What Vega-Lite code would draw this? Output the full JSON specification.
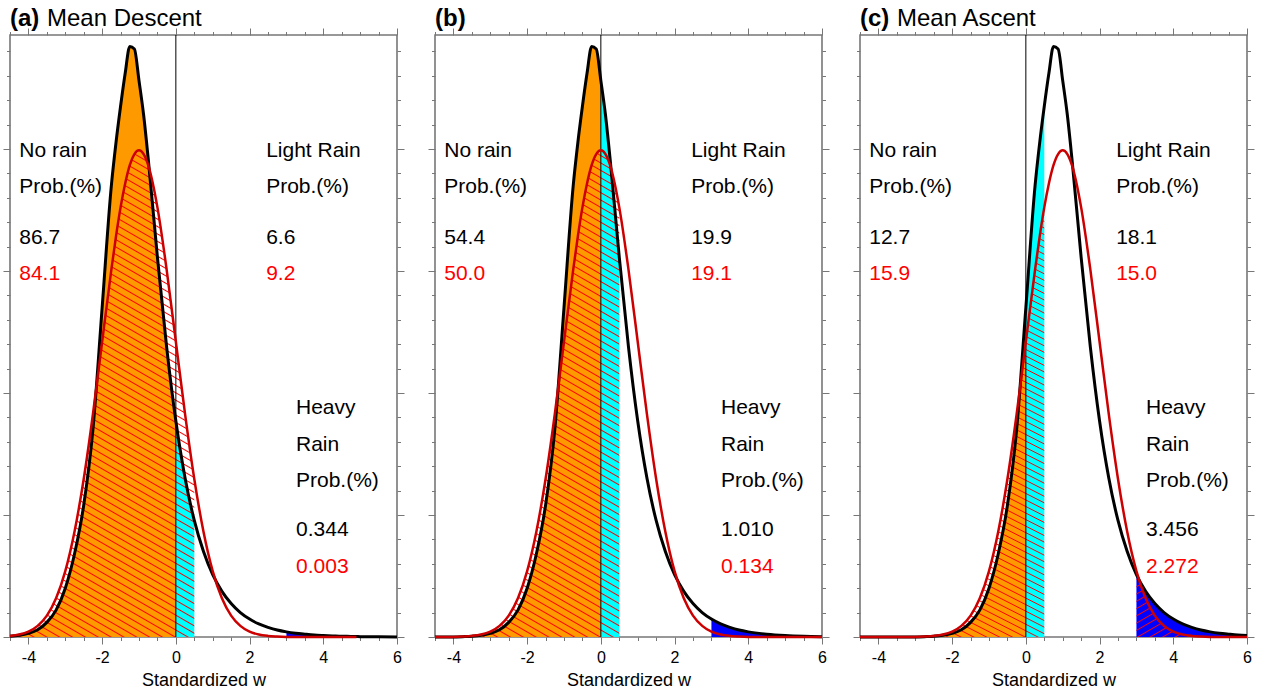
{
"$schema": "https://vega.github.io/schema/vega-lite/v6.json",
"background": "white",
"padding": {"left": 1, "right": 10, "top": 6, "bottom": 0},
"spacing": 38,
"bounds": "flush",
"config": {
 "view": {"stroke": "#777777", "strokeWidth": 1.6},
 "axis": {"domain": false, "grid": false, "tickColor": "#777777", "tickWidth": 1, "labelFont": "Liberation Sans", "labelFontSize": 16, "labelColor": "#000000", "titleFont": "Liberation Sans", "titleFontSize": 18, "titleFontWeight": "normal", "titleColor": "#000000", "labelFlush": false, "labelOverlap": false},
 "text": {"font": "Liberation Sans", "fontSize": 21, "align": "left", "baseline": "alphabetic", "color": "#000000"}
},
"datasets": {
 "ca": [
{"x":-4.5,"b":0.0006,"r":0.0009},{"x":-4.25,"b":0.0014,"r":0.002},{"x":-4,"b":0.003,"r":0.0044},{"x":-3.75,"b":0.006,"r":0.0091},
{"x":-3.5,"b":0.012,"r":0.0175},{"x":-3.25,"b":0.022,"r":0.0317},{"x":-3,"b":0.04,"r":0.054},{"x":-2.75,"b":0.068,"r":0.0863},
{"x":-2.5,"b":0.108,"r":0.1295},{"x":-2.25,"b":0.17,"r":0.1826},{"x":-2,"b":0.27,"r":0.242},{"x":-1.75,"b":0.37,"r":0.3011},
{"x":-1.625,"b":0.405,"r":0.3282},{"x":-1.5,"b":0.435,"r":0.3521},{"x":-1.375,"b":0.462,"r":0.3717},{"x":-1.25,"b":0.484,"r":0.3867},
{"x":-1.125,"b":0.482,"r":0.3958},{"x":-1,"b":0.456,"r":0.3989},{"x":-0.875,"b":0.428,"r":0.3958},{"x":-0.75,"b":0.392,"r":0.3867},
{"x":-0.5,"b":0.3112,"r":0.3521},{"x":-0.25,"b":0.2376,"r":0.3011},{"x":0,"b":0.177,"r":0.242},{"x":0.25,"b":0.1303,"r":0.1826},
{"x":0.5,"b":0.0955,"r":0.1295},{"x":0.75,"b":0.07,"r":0.0863},{"x":1,"b":0.0511,"r":0.054},{"x":1.25,"b":0.0374,"r":0.0317},
{"x":1.5,"b":0.0274,"r":0.0175},{"x":1.75,"b":0.02,"r":0.0091},{"x":2,"b":0.0147,"r":0.0044},{"x":2.25,"b":0.0107,"r":0.002},
{"x":2.5,"b":0.0079,"r":0.0009},{"x":2.75,"b":0.0057,"r":0.0004},{"x":3,"b":0.0042,"r":0.0001},{"x":3.25,"b":0.0031,"r":0},
{"x":3.5,"b":0.0023,"r":0},{"x":3.75,"b":0.0016,"r":0},{"x":4,"b":0.0012,"r":0},{"x":4.25,"b":0.0009,"r":0},
{"x":4.5,"b":0.0006,"r":0},{"x":4.75,"b":0.0005,"r":0},{"x":4.9,"b":0.0004,"r":0},{"x":5,"b":0.0003,"r":null},
{"x":5.5,"b":0.0002,"r":null},{"x":6,"b":0.0001,"r":null}],
 "cb": [
{"x":-4.5,"b":0,"r":0},{"x":-4,"b":0.0001,"r":0.0001},{"x":-3.75,"b":0.0003,"r":0.0004},{"x":-3.5,"b":0.0006,"r":0.0009},
{"x":-3.25,"b":0.0014,"r":0.002},{"x":-3,"b":0.003,"r":0.0044},{"x":-2.75,"b":0.006,"r":0.0091},{"x":-2.5,"b":0.012,"r":0.0175},
{"x":-2.25,"b":0.022,"r":0.0317},{"x":-2,"b":0.04,"r":0.054},{"x":-1.75,"b":0.068,"r":0.0863},{"x":-1.5,"b":0.108,"r":0.1295},
{"x":-1.25,"b":0.17,"r":0.1826},{"x":-1,"b":0.27,"r":0.242},{"x":-0.75,"b":0.37,"r":0.3011},{"x":-0.625,"b":0.405,"r":0.3282},
{"x":-0.5,"b":0.435,"r":0.3521},{"x":-0.375,"b":0.462,"r":0.3717},{"x":-0.25,"b":0.484,"r":0.3867},{"x":-0.125,"b":0.482,"r":0.3958},
{"x":0,"b":0.456,"r":0.3989},{"x":0.125,"b":0.428,"r":0.3958},{"x":0.25,"b":0.392,"r":0.3867},{"x":0.5,"b":0.3112,"r":0.3521},
{"x":0.75,"b":0.2376,"r":0.3011},{"x":1,"b":0.177,"r":0.242},{"x":1.25,"b":0.1303,"r":0.1826},{"x":1.5,"b":0.0955,"r":0.1295},
{"x":1.75,"b":0.07,"r":0.0863},{"x":2,"b":0.0511,"r":0.054},{"x":2.25,"b":0.0374,"r":0.0317},{"x":2.5,"b":0.0274,"r":0.0175},
{"x":2.75,"b":0.02,"r":0.0091},{"x":3,"b":0.0147,"r":0.0044},{"x":3.25,"b":0.0107,"r":0.002},{"x":3.5,"b":0.0079,"r":0.0009},
{"x":3.75,"b":0.0057,"r":0.0004},{"x":4,"b":0.0042,"r":0.0001},{"x":4.5,"b":0.0023,"r":0},{"x":5,"b":0.0012,"r":0},
{"x":5.5,"b":0.0006,"r":0},{"x":6,"b":0.0003,"r":0}],
 "cc": [
{"x":-4.5,"b":0,"r":0},{"x":-3.5,"b":0,"r":0},{"x":-3,"b":0.0001,"r":0.0001},{"x":-2.75,"b":0.0003,"r":0.0004},
{"x":-2.5,"b":0.0006,"r":0.0009},{"x":-2.25,"b":0.0014,"r":0.002},{"x":-2,"b":0.003,"r":0.0044},{"x":-1.75,"b":0.006,"r":0.0091},
{"x":-1.5,"b":0.012,"r":0.0175},{"x":-1.25,"b":0.022,"r":0.0317},{"x":-1,"b":0.04,"r":0.054},{"x":-0.75,"b":0.068,"r":0.0863},
{"x":-0.5,"b":0.108,"r":0.1295},{"x":-0.25,"b":0.17,"r":0.1826},{"x":0,"b":0.27,"r":0.242},{"x":0.25,"b":0.37,"r":0.3011},
{"x":0.375,"b":0.405,"r":0.3282},{"x":0.5,"b":0.435,"r":0.3521},{"x":0.625,"b":0.462,"r":0.3717},{"x":0.75,"b":0.484,"r":0.3867},
{"x":0.875,"b":0.482,"r":0.3958},{"x":1,"b":0.456,"r":0.3989},{"x":1.125,"b":0.428,"r":0.3958},{"x":1.25,"b":0.392,"r":0.3867},
{"x":1.5,"b":0.3112,"r":0.3521},{"x":1.75,"b":0.2376,"r":0.3011},{"x":2,"b":0.177,"r":0.242},{"x":2.25,"b":0.1303,"r":0.1826},
{"x":2.5,"b":0.0955,"r":0.1295},{"x":2.75,"b":0.07,"r":0.0863},{"x":3,"b":0.0511,"r":0.054},{"x":3.25,"b":0.0374,"r":0.0317},
{"x":3.5,"b":0.0274,"r":0.0175},{"x":3.75,"b":0.02,"r":0.0091},{"x":4,"b":0.0147,"r":0.0044},{"x":4.25,"b":0.0107,"r":0.002},
{"x":4.5,"b":0.0079,"r":0.0009},{"x":4.75,"b":0.0057,"r":0.0004},{"x":5,"b":0.0042,"r":0.0001},{"x":5.25,"b":0.0031,"r":0},
{"x":5.5,"b":0.0023,"r":0},{"x":5.75,"b":0.0016,"r":0},{"x":6,"b":0.0012,"r":0}]
},
"hconcat": [
{
 "width": 387, "height": 602,
 "data": {"name": "ca"},
 "resolve": {"axis": {"x": "independent", "y": "independent"}},
 "layer": [
  {"transform": [{"filter": "datum.x <= 0"}],
   "mark": {"type": "area", "color": "#ff9900", "interpolate": "monotone"},
   "encoding": {
    "x": {"field": "x", "type": "quantitative", "scale": {"domain": [-4.5, 6], "nice": false, "zero": false},
     "axis": {"orient": "bottom", "values": [-4.5,-4,-3.5,-3,-2.5,-2,-1.5,-1,-0.5,0,0.5,1,1.5,2,2.5,3,3.5,4,4.5,5,5.5,6], "tickSize": {"condition": {"test": "datum.value % 2 === 0", "value": 7}, "value": 3.5}, "labelExpr": "datum.value % 2 === 0 ? '' + datum.value : ''", "labelPadding": 5, "title": "Standardized w", "titlePadding": 6}},
    "y": {"field": "b", "type": "quantitative", "scale": {"domain": [0, 0.4934], "nice": false},
     "axis": {"orient": "left", "values": [0,0.02,0.04,0.06,0.08,0.1,0.12,0.14,0.16,0.18,0.2,0.22,0.24,0.26,0.28,0.3,0.32,0.34,0.36,0.38,0.4,0.42,0.44,0.46,0.48], "tickSize": {"condition": {"test": "abs(datum.value*10 - round(datum.value*10)) < 0.001", "value": 7}, "value": 3.5}, "labels": false, "title": null}}}},
  {"transform": [{"filter": "datum.x >= 0 && datum.x <= 0.5"}],
   "mark": {"type": "area", "color": "#00ffff", "interpolate": "monotone"},
   "encoding": {
    "x": {"field": "x", "type": "quantitative",
     "axis": {"orient": "top", "values": [-4.5,-4,-3.5,-3,-2.5,-2,-1.5,-1,-0.5,0,0.5,1,1.5,2,2.5,3,3.5,4,4.5,5,5.5,6], "tickSize": {"condition": {"test": "datum.value % 2 === 0", "value": 7}, "value": 3.5}, "labels": false, "title": null}},
    "y": {"field": "b", "type": "quantitative",
     "axis": {"orient": "right", "values": [0,0.02,0.04,0.06,0.08,0.1,0.12,0.14,0.16,0.18,0.2,0.22,0.24,0.26,0.28,0.3,0.32,0.34,0.36,0.38,0.4,0.42,0.44,0.46,0.48], "tickSize": {"condition": {"test": "abs(datum.value*10 - round(datum.value*10)) < 0.001", "value": 7}, "value": 3.5}, "labels": false, "title": null}}}},
  {"transform": [{"filter": "datum.x >= 3"}],
   "mark": {"type": "area", "color": "#0000ff", "interpolate": "monotone"},
   "encoding": {"x": {"field": "x", "type": "quantitative", "axis": null}, "y": {"field": "b", "type": "quantitative", "axis": null}}},
  {"transform": [{"filter": "datum.x <= 0.5"}],
   "mark": {"type": "area", "interpolate": "monotone", "fill": {"gradient": "linear", "x1": 1, "y1": 0, "x2": 0.7458, "y2": 1.1629, "stops": [
{"offset":0,"color":"#f000"},{"offset":0.0019,"color":"#f00"},{"offset":0.0038,"color":"#f000"},
{"offset":0.0125,"color":"#f000"},{"offset":0.0144,"color":"#f00"},{"offset":0.0163,"color":"#f000"},
{"offset":0.025,"color":"#f000"},{"offset":0.0269,"color":"#f00"},{"offset":0.0288,"color":"#f000"},
{"offset":0.0375,"color":"#f000"},{"offset":0.0394,"color":"#f00"},{"offset":0.0413,"color":"#f000"},
{"offset":0.05,"color":"#f000"},{"offset":0.0519,"color":"#f00"},{"offset":0.0538,"color":"#f000"},
{"offset":0.0625,"color":"#f000"},{"offset":0.0644,"color":"#f00"},{"offset":0.0663,"color":"#f000"},
{"offset":0.075,"color":"#f000"},{"offset":0.0769,"color":"#f00"},{"offset":0.0788,"color":"#f000"},
{"offset":0.0875,"color":"#f000"},{"offset":0.0894,"color":"#f00"},{"offset":0.0913,"color":"#f000"},
{"offset":0.1,"color":"#f000"},{"offset":0.1019,"color":"#f00"},{"offset":0.1038,"color":"#f000"},
{"offset":0.1125,"color":"#f000"},{"offset":0.1144,"color":"#f00"},{"offset":0.1163,"color":"#f000"},
{"offset":0.125,"color":"#f000"},{"offset":0.1269,"color":"#f00"},{"offset":0.1288,"color":"#f000"},
{"offset":0.1375,"color":"#f000"},{"offset":0.1394,"color":"#f00"},{"offset":0.1413,"color":"#f000"},
{"offset":0.15,"color":"#f000"},{"offset":0.1519,"color":"#f00"},{"offset":0.1538,"color":"#f000"},
{"offset":0.1625,"color":"#f000"},{"offset":0.1644,"color":"#f00"},{"offset":0.1663,"color":"#f000"},
{"offset":0.175,"color":"#f000"},{"offset":0.1769,"color":"#f00"},{"offset":0.1788,"color":"#f000"},
{"offset":0.1875,"color":"#f000"},{"offset":0.1894,"color":"#f00"},{"offset":0.1913,"color":"#f000"},
{"offset":0.2,"color":"#f000"},{"offset":0.2019,"color":"#f00"},{"offset":0.2038,"color":"#f000"},
{"offset":0.2125,"color":"#f000"},{"offset":0.2144,"color":"#f00"},{"offset":0.2163,"color":"#f000"},
{"offset":0.225,"color":"#f000"},{"offset":0.2269,"color":"#f00"},{"offset":0.2288,"color":"#f000"},
{"offset":0.2375,"color":"#f000"},{"offset":0.2394,"color":"#f00"},{"offset":0.2413,"color":"#f000"},
{"offset":0.25,"color":"#f000"},{"offset":0.2519,"color":"#f00"},{"offset":0.2538,"color":"#f000"},
{"offset":0.2625,"color":"#f000"},{"offset":0.2644,"color":"#f00"},{"offset":0.2663,"color":"#f000"},
{"offset":0.275,"color":"#f000"},{"offset":0.2769,"color":"#f00"},{"offset":0.2788,"color":"#f000"},
{"offset":0.2875,"color":"#f000"},{"offset":0.2894,"color":"#f00"},{"offset":0.2913,"color":"#f000"},
{"offset":0.3,"color":"#f000"},{"offset":0.3019,"color":"#f00"},{"offset":0.3038,"color":"#f000"},
{"offset":0.3125,"color":"#f000"},{"offset":0.3144,"color":"#f00"},{"offset":0.3163,"color":"#f000"},
{"offset":0.325,"color":"#f000"},{"offset":0.3269,"color":"#f00"},{"offset":0.3288,"color":"#f000"},
{"offset":0.3375,"color":"#f000"},{"offset":0.3394,"color":"#f00"},{"offset":0.3413,"color":"#f000"},
{"offset":0.35,"color":"#f000"},{"offset":0.3519,"color":"#f00"},{"offset":0.3538,"color":"#f000"},
{"offset":0.3625,"color":"#f000"},{"offset":0.3644,"color":"#f00"},{"offset":0.3663,"color":"#f000"},
{"offset":0.375,"color":"#f000"},{"offset":0.3769,"color":"#f00"},{"offset":0.3788,"color":"#f000"},
{"offset":0.3875,"color":"#f000"},{"offset":0.3894,"color":"#f00"},{"offset":0.3913,"color":"#f000"},
{"offset":0.4,"color":"#f000"},{"offset":0.4019,"color":"#f00"},{"offset":0.4038,"color":"#f000"},
{"offset":0.4125,"color":"#f000"},{"offset":0.4144,"color":"#f00"},{"offset":0.4163,"color":"#f000"},
{"offset":0.425,"color":"#f000"},{"offset":0.4269,"color":"#f00"},{"offset":0.4288,"color":"#f000"},
{"offset":0.4375,"color":"#f000"},{"offset":0.4394,"color":"#f00"},{"offset":0.4413,"color":"#f000"},
{"offset":0.45,"color":"#f000"},{"offset":0.4519,"color":"#f00"},{"offset":0.4538,"color":"#f000"},
{"offset":0.4625,"color":"#f000"},{"offset":0.4644,"color":"#f00"},{"offset":0.4663,"color":"#f000"},
{"offset":0.475,"color":"#f000"},{"offset":0.4769,"color":"#f00"},{"offset":0.4788,"color":"#f000"},
{"offset":0.4875,"color":"#f000"},{"offset":0.4894,"color":"#f00"},{"offset":0.4913,"color":"#f000"},
{"offset":0.5,"color":"#f000"},{"offset":0.5019,"color":"#f00"},{"offset":0.5038,"color":"#f000"},
{"offset":0.5125,"color":"#f000"},{"offset":0.5144,"color":"#f00"},{"offset":0.5163,"color":"#f000"},
{"offset":0.525,"color":"#f000"},{"offset":0.5269,"color":"#f00"},{"offset":0.5288,"color":"#f000"},
{"offset":0.5375,"color":"#f000"},{"offset":0.5394,"color":"#f00"},{"offset":0.5413,"color":"#f000"},
{"offset":0.55,"color":"#f000"},{"offset":0.5519,"color":"#f00"},{"offset":0.5538,"color":"#f000"},
{"offset":0.5625,"color":"#f000"},{"offset":0.5644,"color":"#f00"},{"offset":0.5663,"color":"#f000"},
{"offset":0.575,"color":"#f000"},{"offset":0.5769,"color":"#f00"},{"offset":0.5788,"color":"#f000"},
{"offset":0.5875,"color":"#f000"},{"offset":0.5894,"color":"#f00"},{"offset":0.5913,"color":"#f000"},
{"offset":0.6,"color":"#f000"},{"offset":0.6019,"color":"#f00"},{"offset":0.6038,"color":"#f000"},
{"offset":0.6125,"color":"#f000"},{"offset":0.6144,"color":"#f00"},{"offset":0.6163,"color":"#f000"},
{"offset":0.625,"color":"#f000"},{"offset":0.6269,"color":"#f00"},{"offset":0.6288,"color":"#f000"},
{"offset":0.6375,"color":"#f000"},{"offset":0.6394,"color":"#f00"},{"offset":0.6413,"color":"#f000"},
{"offset":0.65,"color":"#f000"},{"offset":0.6519,"color":"#f00"},{"offset":0.6538,"color":"#f000"},
{"offset":0.6625,"color":"#f000"},{"offset":0.6644,"color":"#f00"},{"offset":0.6663,"color":"#f000"},
{"offset":0.675,"color":"#f000"},{"offset":0.6769,"color":"#f00"},{"offset":0.6788,"color":"#f000"},
{"offset":0.6875,"color":"#f000"},{"offset":0.6894,"color":"#f00"},{"offset":0.6913,"color":"#f000"},
{"offset":0.7,"color":"#f000"},{"offset":0.7019,"color":"#f00"},{"offset":0.7038,"color":"#f000"},
{"offset":0.7125,"color":"#f000"},{"offset":0.7144,"color":"#f00"},{"offset":0.7163,"color":"#f000"},
{"offset":0.725,"color":"#f000"},{"offset":0.7269,"color":"#f00"},{"offset":0.7288,"color":"#f000"},
{"offset":0.7375,"color":"#f000"},{"offset":0.7394,"color":"#f00"},{"offset":0.7413,"color":"#f000"},
{"offset":0.75,"color":"#f000"},{"offset":0.7519,"color":"#f00"},{"offset":0.7538,"color":"#f000"},
{"offset":0.7625,"color":"#f000"},{"offset":0.7644,"color":"#f00"},{"offset":0.7663,"color":"#f000"},
{"offset":0.775,"color":"#f000"},{"offset":0.7769,"color":"#f00"},{"offset":0.7788,"color":"#f000"},
{"offset":0.7875,"color":"#f000"},{"offset":0.7894,"color":"#f00"},{"offset":0.7913,"color":"#f000"},
{"offset":0.8,"color":"#f000"},{"offset":0.8019,"color":"#f00"},{"offset":0.8038,"color":"#f000"},
{"offset":0.8125,"color":"#f000"},{"offset":0.8144,"color":"#f00"},{"offset":0.8163,"color":"#f000"},
{"offset":0.825,"color":"#f000"},{"offset":0.8269,"color":"#f00"},{"offset":0.8288,"color":"#f000"},
{"offset":0.8375,"color":"#f000"},{"offset":0.8394,"color":"#f00"},{"offset":0.8413,"color":"#f000"},
{"offset":0.85,"color":"#f000"},{"offset":0.8519,"color":"#f00"},{"offset":0.8538,"color":"#f000"},
{"offset":0.8625,"color":"#f000"},{"offset":0.8644,"color":"#f00"},{"offset":0.8663,"color":"#f000"},
{"offset":0.875,"color":"#f000"},{"offset":0.8769,"color":"#f00"},{"offset":0.8788,"color":"#f000"},
{"offset":0.8875,"color":"#f000"},{"offset":0.8894,"color":"#f00"},{"offset":0.8913,"color":"#f000"},
{"offset":0.9,"color":"#f000"},{"offset":0.9019,"color":"#f00"},{"offset":0.9038,"color":"#f000"},
{"offset":0.9125,"color":"#f000"},{"offset":0.9144,"color":"#f00"},{"offset":0.9163,"color":"#f000"},
{"offset":0.925,"color":"#f000"},{"offset":0.9269,"color":"#f00"},{"offset":0.9288,"color":"#f000"},
{"offset":0.9375,"color":"#f000"},{"offset":0.9394,"color":"#f00"},{"offset":0.9413,"color":"#f000"},
{"offset":0.95,"color":"#f000"},{"offset":0.9519,"color":"#f00"},{"offset":0.9538,"color":"#f000"},
{"offset":0.9625,"color":"#f000"},{"offset":0.9644,"color":"#f00"},{"offset":0.9663,"color":"#f000"},
{"offset":0.975,"color":"#f000"},{"offset":0.9769,"color":"#f00"},{"offset":0.9788,"color":"#f000"},
{"offset":0.9875,"color":"#f000"},{"offset":0.9894,"color":"#f00"},{"offset":0.9913,"color":"#f000"},
{"offset":1,"color":"#f000"}]}},
   "encoding": {"x": {"field": "x", "type": "quantitative", "axis": null}, "y": {"field": "r", "type": "quantitative", "axis": null}}},
  {"data": {"values": [{}]}, "mark": {"type": "rule", "color": "#000000", "strokeWidth": 1}, "encoding": {"x": {"datum": 0, "axis": null}}},
  {"mark": {"type": "line", "color": "#000000", "strokeWidth": 3, "interpolate": "monotone"},
   "encoding": {"x": {"field": "x", "type": "quantitative", "axis": null}, "y": {"field": "b", "type": "quantitative", "axis": null}}},
  {"transform": [{"filter": "isValid(datum.r)"}],
   "mark": {"type": "line", "color": "#cc0000", "strokeWidth": 2.5, "interpolate": "monotone"},
   "encoding": {"x": {"field": "x", "type": "quantitative", "axis": null}, "y": {"field": "r", "type": "quantitative", "axis": null}}},
  {"data": {"values": [{}]}, "mark": {"type": "text", "text": ["No rain", "Prob.(%)"], "lineHeight": 36}, "encoding": {"x": {"datum": -4.25, "axis": null}, "y": {"datum": 0.3934, "axis": null}}},
  {"data": {"values": [{}]}, "mark": {"type": "text", "text": "86.7"}, "encoding": {"x": {"datum": -4.25, "axis": null}, "y": {"datum": 0.3221, "axis": null}}},
  {"data": {"values": [{}]}, "mark": {"type": "text", "text": "84.1", "color": "#ff0000"}, "encoding": {"x": {"datum": -4.25, "axis": null}, "y": {"datum": 0.293, "axis": null}}},
  {"data": {"values": [{}]}, "mark": {"type": "text", "text": ["Light Rain", "Prob.(%)"], "lineHeight": 36}, "encoding": {"x": {"datum": 2.45, "axis": null}, "y": {"datum": 0.3934, "axis": null}}},
  {"data": {"values": [{}]}, "mark": {"type": "text", "text": "6.6"}, "encoding": {"x": {"datum": 2.45, "axis": null}, "y": {"datum": 0.3221, "axis": null}}},
  {"data": {"values": [{}]}, "mark": {"type": "text", "text": "9.2", "color": "#ff0000"}, "encoding": {"x": {"datum": 2.45, "axis": null}, "y": {"datum": 0.293, "axis": null}}},
  {"data": {"values": [{}]}, "mark": {"type": "text", "text": ["Heavy", "Rain", "Prob.(%)"], "lineHeight": 36.5}, "encoding": {"x": {"datum": 3.26, "axis": null}, "y": {"datum": 0.1824, "axis": null}}},
  {"data": {"values": [{}]}, "mark": {"type": "text", "text": "0.344"}, "encoding": {"x": {"datum": 3.26, "axis": null}, "y": {"datum": 0.0825, "axis": null}}},
  {"data": {"values": [{}]}, "mark": {"type": "text", "text": "0.003", "color": "#ff0000"}, "encoding": {"x": {"datum": 3.26, "axis": null}, "y": {"datum": 0.0522, "axis": null}}},
  {"data": {"values": [{}]}, "mark": {"type": "text", "text": "(a)", "fontSize": 24, "fontWeight": "bold"}, "encoding": {"x": {"datum": -4.5, "axis": null}, "y": {"datum": 0.5008, "axis": null}}},
  {"data": {"values": [{}]}, "mark": {"type": "text", "text": "Mean Descent", "fontSize": 24, "dx": 37}, "encoding": {"x": {"datum": -4.5, "axis": null}, "y": {"datum": 0.5008, "axis": null}}}
 ]
},
{
 "width": 387, "height": 602,
 "data": {"name": "cb"},
 "resolve": {"axis": {"x": "independent", "y": "independent"}},
 "layer": [
  {"transform": [{"filter": "datum.x <= 0"}],
   "mark": {"type": "area", "color": "#ff9900", "interpolate": "monotone"},
   "encoding": {
    "x": {"field": "x", "type": "quantitative", "scale": {"domain": [-4.5, 6], "nice": false, "zero": false},
     "axis": {"orient": "bottom", "values": [-4.5,-4,-3.5,-3,-2.5,-2,-1.5,-1,-0.5,0,0.5,1,1.5,2,2.5,3,3.5,4,4.5,5,5.5,6], "tickSize": {"condition": {"test": "datum.value % 2 === 0", "value": 7}, "value": 3.5}, "labelExpr": "datum.value % 2 === 0 ? '' + datum.value : ''", "labelPadding": 5, "title": "Standardized w", "titlePadding": 6}},
    "y": {"field": "b", "type": "quantitative", "scale": {"domain": [0, 0.4934], "nice": false},
     "axis": {"orient": "left", "values": [0,0.02,0.04,0.06,0.08,0.1,0.12,0.14,0.16,0.18,0.2,0.22,0.24,0.26,0.28,0.3,0.32,0.34,0.36,0.38,0.4,0.42,0.44,0.46,0.48], "tickSize": {"condition": {"test": "abs(datum.value*10 - round(datum.value*10)) < 0.001", "value": 7}, "value": 3.5}, "labels": false, "title": null}}}},
  {"transform": [{"filter": "datum.x >= 0 && datum.x <= 0.5"}],
   "mark": {"type": "area", "color": "#00ffff", "interpolate": "monotone"},
   "encoding": {
    "x": {"field": "x", "type": "quantitative",
     "axis": {"orient": "top", "values": [-4.5,-4,-3.5,-3,-2.5,-2,-1.5,-1,-0.5,0,0.5,1,1.5,2,2.5,3,3.5,4,4.5,5,5.5,6], "tickSize": {"condition": {"test": "datum.value % 2 === 0", "value": 7}, "value": 3.5}, "labels": false, "title": null}},
    "y": {"field": "b", "type": "quantitative",
     "axis": {"orient": "right", "values": [0,0.02,0.04,0.06,0.08,0.1,0.12,0.14,0.16,0.18,0.2,0.22,0.24,0.26,0.28,0.3,0.32,0.34,0.36,0.38,0.4,0.42,0.44,0.46,0.48], "tickSize": {"condition": {"test": "abs(datum.value*10 - round(datum.value*10)) < 0.001", "value": 7}, "value": 3.5}, "labels": false, "title": null}}}},
  {"transform": [{"filter": "datum.x >= 3"}],
   "mark": {"type": "area", "color": "#0000ff", "interpolate": "monotone"},
   "encoding": {"x": {"field": "x", "type": "quantitative", "axis": null}, "y": {"field": "b", "type": "quantitative", "axis": null}}},
  {"transform": [{"filter": "datum.x <= 0.5"}],
   "mark": {"type": "area", "interpolate": "monotone", "fill": {"gradient": "linear", "x1": 1, "y1": 0, "x2": 0.7458, "y2": 1.1629, "stops": [
{"offset":0,"color":"#f000"},{"offset":0.0019,"color":"#f00"},{"offset":0.0038,"color":"#f000"},
{"offset":0.0125,"color":"#f000"},{"offset":0.0144,"color":"#f00"},{"offset":0.0163,"color":"#f000"},
{"offset":0.025,"color":"#f000"},{"offset":0.0269,"color":"#f00"},{"offset":0.0288,"color":"#f000"},
{"offset":0.0375,"color":"#f000"},{"offset":0.0394,"color":"#f00"},{"offset":0.0413,"color":"#f000"},
{"offset":0.05,"color":"#f000"},{"offset":0.0519,"color":"#f00"},{"offset":0.0538,"color":"#f000"},
{"offset":0.0625,"color":"#f000"},{"offset":0.0644,"color":"#f00"},{"offset":0.0663,"color":"#f000"},
{"offset":0.075,"color":"#f000"},{"offset":0.0769,"color":"#f00"},{"offset":0.0788,"color":"#f000"},
{"offset":0.0875,"color":"#f000"},{"offset":0.0894,"color":"#f00"},{"offset":0.0913,"color":"#f000"},
{"offset":0.1,"color":"#f000"},{"offset":0.1019,"color":"#f00"},{"offset":0.1038,"color":"#f000"},
{"offset":0.1125,"color":"#f000"},{"offset":0.1144,"color":"#f00"},{"offset":0.1163,"color":"#f000"},
{"offset":0.125,"color":"#f000"},{"offset":0.1269,"color":"#f00"},{"offset":0.1288,"color":"#f000"},
{"offset":0.1375,"color":"#f000"},{"offset":0.1394,"color":"#f00"},{"offset":0.1413,"color":"#f000"},
{"offset":0.15,"color":"#f000"},{"offset":0.1519,"color":"#f00"},{"offset":0.1538,"color":"#f000"},
{"offset":0.1625,"color":"#f000"},{"offset":0.1644,"color":"#f00"},{"offset":0.1663,"color":"#f000"},
{"offset":0.175,"color":"#f000"},{"offset":0.1769,"color":"#f00"},{"offset":0.1788,"color":"#f000"},
{"offset":0.1875,"color":"#f000"},{"offset":0.1894,"color":"#f00"},{"offset":0.1913,"color":"#f000"},
{"offset":0.2,"color":"#f000"},{"offset":0.2019,"color":"#f00"},{"offset":0.2038,"color":"#f000"},
{"offset":0.2125,"color":"#f000"},{"offset":0.2144,"color":"#f00"},{"offset":0.2163,"color":"#f000"},
{"offset":0.225,"color":"#f000"},{"offset":0.2269,"color":"#f00"},{"offset":0.2288,"color":"#f000"},
{"offset":0.2375,"color":"#f000"},{"offset":0.2394,"color":"#f00"},{"offset":0.2413,"color":"#f000"},
{"offset":0.25,"color":"#f000"},{"offset":0.2519,"color":"#f00"},{"offset":0.2538,"color":"#f000"},
{"offset":0.2625,"color":"#f000"},{"offset":0.2644,"color":"#f00"},{"offset":0.2663,"color":"#f000"},
{"offset":0.275,"color":"#f000"},{"offset":0.2769,"color":"#f00"},{"offset":0.2788,"color":"#f000"},
{"offset":0.2875,"color":"#f000"},{"offset":0.2894,"color":"#f00"},{"offset":0.2913,"color":"#f000"},
{"offset":0.3,"color":"#f000"},{"offset":0.3019,"color":"#f00"},{"offset":0.3038,"color":"#f000"},
{"offset":0.3125,"color":"#f000"},{"offset":0.3144,"color":"#f00"},{"offset":0.3163,"color":"#f000"},
{"offset":0.325,"color":"#f000"},{"offset":0.3269,"color":"#f00"},{"offset":0.3288,"color":"#f000"},
{"offset":0.3375,"color":"#f000"},{"offset":0.3394,"color":"#f00"},{"offset":0.3413,"color":"#f000"},
{"offset":0.35,"color":"#f000"},{"offset":0.3519,"color":"#f00"},{"offset":0.3538,"color":"#f000"},
{"offset":0.3625,"color":"#f000"},{"offset":0.3644,"color":"#f00"},{"offset":0.3663,"color":"#f000"},
{"offset":0.375,"color":"#f000"},{"offset":0.3769,"color":"#f00"},{"offset":0.3788,"color":"#f000"},
{"offset":0.3875,"color":"#f000"},{"offset":0.3894,"color":"#f00"},{"offset":0.3913,"color":"#f000"},
{"offset":0.4,"color":"#f000"},{"offset":0.4019,"color":"#f00"},{"offset":0.4038,"color":"#f000"},
{"offset":0.4125,"color":"#f000"},{"offset":0.4144,"color":"#f00"},{"offset":0.4163,"color":"#f000"},
{"offset":0.425,"color":"#f000"},{"offset":0.4269,"color":"#f00"},{"offset":0.4288,"color":"#f000"},
{"offset":0.4375,"color":"#f000"},{"offset":0.4394,"color":"#f00"},{"offset":0.4413,"color":"#f000"},
{"offset":0.45,"color":"#f000"},{"offset":0.4519,"color":"#f00"},{"offset":0.4538,"color":"#f000"},
{"offset":0.4625,"color":"#f000"},{"offset":0.4644,"color":"#f00"},{"offset":0.4663,"color":"#f000"},
{"offset":0.475,"color":"#f000"},{"offset":0.4769,"color":"#f00"},{"offset":0.4788,"color":"#f000"},
{"offset":0.4875,"color":"#f000"},{"offset":0.4894,"color":"#f00"},{"offset":0.4913,"color":"#f000"},
{"offset":0.5,"color":"#f000"},{"offset":0.5019,"color":"#f00"},{"offset":0.5038,"color":"#f000"},
{"offset":0.5125,"color":"#f000"},{"offset":0.5144,"color":"#f00"},{"offset":0.5163,"color":"#f000"},
{"offset":0.525,"color":"#f000"},{"offset":0.5269,"color":"#f00"},{"offset":0.5288,"color":"#f000"},
{"offset":0.5375,"color":"#f000"},{"offset":0.5394,"color":"#f00"},{"offset":0.5413,"color":"#f000"},
{"offset":0.55,"color":"#f000"},{"offset":0.5519,"color":"#f00"},{"offset":0.5538,"color":"#f000"},
{"offset":0.5625,"color":"#f000"},{"offset":0.5644,"color":"#f00"},{"offset":0.5663,"color":"#f000"},
{"offset":0.575,"color":"#f000"},{"offset":0.5769,"color":"#f00"},{"offset":0.5788,"color":"#f000"},
{"offset":0.5875,"color":"#f000"},{"offset":0.5894,"color":"#f00"},{"offset":0.5913,"color":"#f000"},
{"offset":0.6,"color":"#f000"},{"offset":0.6019,"color":"#f00"},{"offset":0.6038,"color":"#f000"},
{"offset":0.6125,"color":"#f000"},{"offset":0.6144,"color":"#f00"},{"offset":0.6163,"color":"#f000"},
{"offset":0.625,"color":"#f000"},{"offset":0.6269,"color":"#f00"},{"offset":0.6288,"color":"#f000"},
{"offset":0.6375,"color":"#f000"},{"offset":0.6394,"color":"#f00"},{"offset":0.6413,"color":"#f000"},
{"offset":0.65,"color":"#f000"},{"offset":0.6519,"color":"#f00"},{"offset":0.6538,"color":"#f000"},
{"offset":0.6625,"color":"#f000"},{"offset":0.6644,"color":"#f00"},{"offset":0.6663,"color":"#f000"},
{"offset":0.675,"color":"#f000"},{"offset":0.6769,"color":"#f00"},{"offset":0.6788,"color":"#f000"},
{"offset":0.6875,"color":"#f000"},{"offset":0.6894,"color":"#f00"},{"offset":0.6913,"color":"#f000"},
{"offset":0.7,"color":"#f000"},{"offset":0.7019,"color":"#f00"},{"offset":0.7038,"color":"#f000"},
{"offset":0.7125,"color":"#f000"},{"offset":0.7144,"color":"#f00"},{"offset":0.7163,"color":"#f000"},
{"offset":0.725,"color":"#f000"},{"offset":0.7269,"color":"#f00"},{"offset":0.7288,"color":"#f000"},
{"offset":0.7375,"color":"#f000"},{"offset":0.7394,"color":"#f00"},{"offset":0.7413,"color":"#f000"},
{"offset":0.75,"color":"#f000"},{"offset":0.7519,"color":"#f00"},{"offset":0.7538,"color":"#f000"},
{"offset":0.7625,"color":"#f000"},{"offset":0.7644,"color":"#f00"},{"offset":0.7663,"color":"#f000"},
{"offset":0.775,"color":"#f000"},{"offset":0.7769,"color":"#f00"},{"offset":0.7788,"color":"#f000"},
{"offset":0.7875,"color":"#f000"},{"offset":0.7894,"color":"#f00"},{"offset":0.7913,"color":"#f000"},
{"offset":0.8,"color":"#f000"},{"offset":0.8019,"color":"#f00"},{"offset":0.8038,"color":"#f000"},
{"offset":0.8125,"color":"#f000"},{"offset":0.8144,"color":"#f00"},{"offset":0.8163,"color":"#f000"},
{"offset":0.825,"color":"#f000"},{"offset":0.8269,"color":"#f00"},{"offset":0.8288,"color":"#f000"},
{"offset":0.8375,"color":"#f000"},{"offset":0.8394,"color":"#f00"},{"offset":0.8413,"color":"#f000"},
{"offset":0.85,"color":"#f000"},{"offset":0.8519,"color":"#f00"},{"offset":0.8538,"color":"#f000"},
{"offset":0.8625,"color":"#f000"},{"offset":0.8644,"color":"#f00"},{"offset":0.8663,"color":"#f000"},
{"offset":0.875,"color":"#f000"},{"offset":0.8769,"color":"#f00"},{"offset":0.8788,"color":"#f000"},
{"offset":0.8875,"color":"#f000"},{"offset":0.8894,"color":"#f00"},{"offset":0.8913,"color":"#f000"},
{"offset":0.9,"color":"#f000"},{"offset":0.9019,"color":"#f00"},{"offset":0.9038,"color":"#f000"},
{"offset":0.9125,"color":"#f000"},{"offset":0.9144,"color":"#f00"},{"offset":0.9163,"color":"#f000"},
{"offset":0.925,"color":"#f000"},{"offset":0.9269,"color":"#f00"},{"offset":0.9288,"color":"#f000"},
{"offset":0.9375,"color":"#f000"},{"offset":0.9394,"color":"#f00"},{"offset":0.9413,"color":"#f000"},
{"offset":0.95,"color":"#f000"},{"offset":0.9519,"color":"#f00"},{"offset":0.9538,"color":"#f000"},
{"offset":0.9625,"color":"#f000"},{"offset":0.9644,"color":"#f00"},{"offset":0.9663,"color":"#f000"},
{"offset":0.975,"color":"#f000"},{"offset":0.9769,"color":"#f00"},{"offset":0.9788,"color":"#f000"},
{"offset":0.9875,"color":"#f000"},{"offset":0.9894,"color":"#f00"},{"offset":0.9913,"color":"#f000"},
{"offset":1,"color":"#f000"}]}},
   "encoding": {"x": {"field": "x", "type": "quantitative", "axis": null}, "y": {"field": "r", "type": "quantitative", "axis": null}}},
  {"data": {"values": [{}]}, "mark": {"type": "rule", "color": "#000000", "strokeWidth": 1}, "encoding": {"x": {"datum": 0, "axis": null}}},
  {"mark": {"type": "line", "color": "#000000", "strokeWidth": 3, "interpolate": "monotone"},
   "encoding": {"x": {"field": "x", "type": "quantitative", "axis": null}, "y": {"field": "b", "type": "quantitative", "axis": null}}},
  {"transform": [{"filter": "isValid(datum.r)"}],
   "mark": {"type": "line", "color": "#cc0000", "strokeWidth": 2.5, "interpolate": "monotone"},
   "encoding": {"x": {"field": "x", "type": "quantitative", "axis": null}, "y": {"field": "r", "type": "quantitative", "axis": null}}},
  {"data": {"values": [{}]}, "mark": {"type": "text", "text": ["No rain", "Prob.(%)"], "lineHeight": 36}, "encoding": {"x": {"datum": -4.25, "axis": null}, "y": {"datum": 0.3934, "axis": null}}},
  {"data": {"values": [{}]}, "mark": {"type": "text", "text": "54.4"}, "encoding": {"x": {"datum": -4.25, "axis": null}, "y": {"datum": 0.3221, "axis": null}}},
  {"data": {"values": [{}]}, "mark": {"type": "text", "text": "50.0", "color": "#ff0000"}, "encoding": {"x": {"datum": -4.25, "axis": null}, "y": {"datum": 0.293, "axis": null}}},
  {"data": {"values": [{}]}, "mark": {"type": "text", "text": ["Light Rain", "Prob.(%)"], "lineHeight": 36}, "encoding": {"x": {"datum": 2.45, "axis": null}, "y": {"datum": 0.3934, "axis": null}}},
  {"data": {"values": [{}]}, "mark": {"type": "text", "text": "19.9"}, "encoding": {"x": {"datum": 2.45, "axis": null}, "y": {"datum": 0.3221, "axis": null}}},
  {"data": {"values": [{}]}, "mark": {"type": "text", "text": "19.1", "color": "#ff0000"}, "encoding": {"x": {"datum": 2.45, "axis": null}, "y": {"datum": 0.293, "axis": null}}},
  {"data": {"values": [{}]}, "mark": {"type": "text", "text": ["Heavy", "Rain", "Prob.(%)"], "lineHeight": 36.5}, "encoding": {"x": {"datum": 3.26, "axis": null}, "y": {"datum": 0.1824, "axis": null}}},
  {"data": {"values": [{}]}, "mark": {"type": "text", "text": "1.010"}, "encoding": {"x": {"datum": 3.26, "axis": null}, "y": {"datum": 0.0825, "axis": null}}},
  {"data": {"values": [{}]}, "mark": {"type": "text", "text": "0.134", "color": "#ff0000"}, "encoding": {"x": {"datum": 3.26, "axis": null}, "y": {"datum": 0.0522, "axis": null}}},
  {"data": {"values": [{}]}, "mark": {"type": "text", "text": "(b)", "fontSize": 24, "fontWeight": "bold"}, "encoding": {"x": {"datum": -4.5, "axis": null}, "y": {"datum": 0.5008, "axis": null}}}
 ]
},
{
 "width": 387, "height": 602,
 "data": {"name": "cc"},
 "resolve": {"axis": {"x": "independent", "y": "independent"}},
 "layer": [
  {"transform": [{"filter": "datum.x <= 0"}],
   "mark": {"type": "area", "color": "#ff9900", "interpolate": "monotone"},
   "encoding": {
    "x": {"field": "x", "type": "quantitative", "scale": {"domain": [-4.5, 6], "nice": false, "zero": false},
     "axis": {"orient": "bottom", "values": [-4.5,-4,-3.5,-3,-2.5,-2,-1.5,-1,-0.5,0,0.5,1,1.5,2,2.5,3,3.5,4,4.5,5,5.5,6], "tickSize": {"condition": {"test": "datum.value % 2 === 0", "value": 7}, "value": 3.5}, "labelExpr": "datum.value % 2 === 0 ? '' + datum.value : ''", "labelPadding": 5, "title": "Standardized w", "titlePadding": 6}},
    "y": {"field": "b", "type": "quantitative", "scale": {"domain": [0, 0.4934], "nice": false},
     "axis": {"orient": "left", "values": [0,0.02,0.04,0.06,0.08,0.1,0.12,0.14,0.16,0.18,0.2,0.22,0.24,0.26,0.28,0.3,0.32,0.34,0.36,0.38,0.4,0.42,0.44,0.46,0.48], "tickSize": {"condition": {"test": "abs(datum.value*10 - round(datum.value*10)) < 0.001", "value": 7}, "value": 3.5}, "labels": false, "title": null}}}},
  {"transform": [{"filter": "datum.x >= 0 && datum.x <= 0.5"}],
   "mark": {"type": "area", "color": "#00ffff", "interpolate": "monotone"},
   "encoding": {
    "x": {"field": "x", "type": "quantitative",
     "axis": {"orient": "top", "values": [-4.5,-4,-3.5,-3,-2.5,-2,-1.5,-1,-0.5,0,0.5,1,1.5,2,2.5,3,3.5,4,4.5,5,5.5,6], "tickSize": {"condition": {"test": "datum.value % 2 === 0", "value": 7}, "value": 3.5}, "labels": false, "title": null}},
    "y": {"field": "b", "type": "quantitative",
     "axis": {"orient": "right", "values": [0,0.02,0.04,0.06,0.08,0.1,0.12,0.14,0.16,0.18,0.2,0.22,0.24,0.26,0.28,0.3,0.32,0.34,0.36,0.38,0.4,0.42,0.44,0.46,0.48], "tickSize": {"condition": {"test": "abs(datum.value*10 - round(datum.value*10)) < 0.001", "value": 7}, "value": 3.5}, "labels": false, "title": null}}}},
  {"transform": [{"filter": "datum.x >= 3"}],
   "mark": {"type": "area", "color": "#0000ff", "interpolate": "monotone"},
   "encoding": {"x": {"field": "x", "type": "quantitative", "axis": null}, "y": {"field": "b", "type": "quantitative", "axis": null}}},
  {"transform": [{"filter": "datum.x <= 0.5"}],
   "mark": {"type": "area", "interpolate": "monotone", "fill": {"gradient": "linear", "x1": 1, "y1": 0, "x2": 0.7458, "y2": 1.1629, "stops": [
{"offset":0,"color":"#f000"},{"offset":0.0019,"color":"#f00"},{"offset":0.0038,"color":"#f000"},
{"offset":0.0125,"color":"#f000"},{"offset":0.0144,"color":"#f00"},{"offset":0.0163,"color":"#f000"},
{"offset":0.025,"color":"#f000"},{"offset":0.0269,"color":"#f00"},{"offset":0.0288,"color":"#f000"},
{"offset":0.0375,"color":"#f000"},{"offset":0.0394,"color":"#f00"},{"offset":0.0413,"color":"#f000"},
{"offset":0.05,"color":"#f000"},{"offset":0.0519,"color":"#f00"},{"offset":0.0538,"color":"#f000"},
{"offset":0.0625,"color":"#f000"},{"offset":0.0644,"color":"#f00"},{"offset":0.0663,"color":"#f000"},
{"offset":0.075,"color":"#f000"},{"offset":0.0769,"color":"#f00"},{"offset":0.0788,"color":"#f000"},
{"offset":0.0875,"color":"#f000"},{"offset":0.0894,"color":"#f00"},{"offset":0.0913,"color":"#f000"},
{"offset":0.1,"color":"#f000"},{"offset":0.1019,"color":"#f00"},{"offset":0.1038,"color":"#f000"},
{"offset":0.1125,"color":"#f000"},{"offset":0.1144,"color":"#f00"},{"offset":0.1163,"color":"#f000"},
{"offset":0.125,"color":"#f000"},{"offset":0.1269,"color":"#f00"},{"offset":0.1288,"color":"#f000"},
{"offset":0.1375,"color":"#f000"},{"offset":0.1394,"color":"#f00"},{"offset":0.1413,"color":"#f000"},
{"offset":0.15,"color":"#f000"},{"offset":0.1519,"color":"#f00"},{"offset":0.1538,"color":"#f000"},
{"offset":0.1625,"color":"#f000"},{"offset":0.1644,"color":"#f00"},{"offset":0.1663,"color":"#f000"},
{"offset":0.175,"color":"#f000"},{"offset":0.1769,"color":"#f00"},{"offset":0.1788,"color":"#f000"},
{"offset":0.1875,"color":"#f000"},{"offset":0.1894,"color":"#f00"},{"offset":0.1913,"color":"#f000"},
{"offset":0.2,"color":"#f000"},{"offset":0.2019,"color":"#f00"},{"offset":0.2038,"color":"#f000"},
{"offset":0.2125,"color":"#f000"},{"offset":0.2144,"color":"#f00"},{"offset":0.2163,"color":"#f000"},
{"offset":0.225,"color":"#f000"},{"offset":0.2269,"color":"#f00"},{"offset":0.2288,"color":"#f000"},
{"offset":0.2375,"color":"#f000"},{"offset":0.2394,"color":"#f00"},{"offset":0.2413,"color":"#f000"},
{"offset":0.25,"color":"#f000"},{"offset":0.2519,"color":"#f00"},{"offset":0.2538,"color":"#f000"},
{"offset":0.2625,"color":"#f000"},{"offset":0.2644,"color":"#f00"},{"offset":0.2663,"color":"#f000"},
{"offset":0.275,"color":"#f000"},{"offset":0.2769,"color":"#f00"},{"offset":0.2788,"color":"#f000"},
{"offset":0.2875,"color":"#f000"},{"offset":0.2894,"color":"#f00"},{"offset":0.2913,"color":"#f000"},
{"offset":0.3,"color":"#f000"},{"offset":0.3019,"color":"#f00"},{"offset":0.3038,"color":"#f000"},
{"offset":0.3125,"color":"#f000"},{"offset":0.3144,"color":"#f00"},{"offset":0.3163,"color":"#f000"},
{"offset":0.325,"color":"#f000"},{"offset":0.3269,"color":"#f00"},{"offset":0.3288,"color":"#f000"},
{"offset":0.3375,"color":"#f000"},{"offset":0.3394,"color":"#f00"},{"offset":0.3413,"color":"#f000"},
{"offset":0.35,"color":"#f000"},{"offset":0.3519,"color":"#f00"},{"offset":0.3538,"color":"#f000"},
{"offset":0.3625,"color":"#f000"},{"offset":0.3644,"color":"#f00"},{"offset":0.3663,"color":"#f000"},
{"offset":0.375,"color":"#f000"},{"offset":0.3769,"color":"#f00"},{"offset":0.3788,"color":"#f000"},
{"offset":0.3875,"color":"#f000"},{"offset":0.3894,"color":"#f00"},{"offset":0.3913,"color":"#f000"},
{"offset":0.4,"color":"#f000"},{"offset":0.4019,"color":"#f00"},{"offset":0.4038,"color":"#f000"},
{"offset":0.4125,"color":"#f000"},{"offset":0.4144,"color":"#f00"},{"offset":0.4163,"color":"#f000"},
{"offset":0.425,"color":"#f000"},{"offset":0.4269,"color":"#f00"},{"offset":0.4288,"color":"#f000"},
{"offset":0.4375,"color":"#f000"},{"offset":0.4394,"color":"#f00"},{"offset":0.4413,"color":"#f000"},
{"offset":0.45,"color":"#f000"},{"offset":0.4519,"color":"#f00"},{"offset":0.4538,"color":"#f000"},
{"offset":0.4625,"color":"#f000"},{"offset":0.4644,"color":"#f00"},{"offset":0.4663,"color":"#f000"},
{"offset":0.475,"color":"#f000"},{"offset":0.4769,"color":"#f00"},{"offset":0.4788,"color":"#f000"},
{"offset":0.4875,"color":"#f000"},{"offset":0.4894,"color":"#f00"},{"offset":0.4913,"color":"#f000"},
{"offset":0.5,"color":"#f000"},{"offset":0.5019,"color":"#f00"},{"offset":0.5038,"color":"#f000"},
{"offset":0.5125,"color":"#f000"},{"offset":0.5144,"color":"#f00"},{"offset":0.5163,"color":"#f000"},
{"offset":0.525,"color":"#f000"},{"offset":0.5269,"color":"#f00"},{"offset":0.5288,"color":"#f000"},
{"offset":0.5375,"color":"#f000"},{"offset":0.5394,"color":"#f00"},{"offset":0.5413,"color":"#f000"},
{"offset":0.55,"color":"#f000"},{"offset":0.5519,"color":"#f00"},{"offset":0.5538,"color":"#f000"},
{"offset":0.5625,"color":"#f000"},{"offset":0.5644,"color":"#f00"},{"offset":0.5663,"color":"#f000"},
{"offset":0.575,"color":"#f000"},{"offset":0.5769,"color":"#f00"},{"offset":0.5788,"color":"#f000"},
{"offset":0.5875,"color":"#f000"},{"offset":0.5894,"color":"#f00"},{"offset":0.5913,"color":"#f000"},
{"offset":0.6,"color":"#f000"},{"offset":0.6019,"color":"#f00"},{"offset":0.6038,"color":"#f000"},
{"offset":0.6125,"color":"#f000"},{"offset":0.6144,"color":"#f00"},{"offset":0.6163,"color":"#f000"},
{"offset":0.625,"color":"#f000"},{"offset":0.6269,"color":"#f00"},{"offset":0.6288,"color":"#f000"},
{"offset":0.6375,"color":"#f000"},{"offset":0.6394,"color":"#f00"},{"offset":0.6413,"color":"#f000"},
{"offset":0.65,"color":"#f000"},{"offset":0.6519,"color":"#f00"},{"offset":0.6538,"color":"#f000"},
{"offset":0.6625,"color":"#f000"},{"offset":0.6644,"color":"#f00"},{"offset":0.6663,"color":"#f000"},
{"offset":0.675,"color":"#f000"},{"offset":0.6769,"color":"#f00"},{"offset":0.6788,"color":"#f000"},
{"offset":0.6875,"color":"#f000"},{"offset":0.6894,"color":"#f00"},{"offset":0.6913,"color":"#f000"},
{"offset":0.7,"color":"#f000"},{"offset":0.7019,"color":"#f00"},{"offset":0.7038,"color":"#f000"},
{"offset":0.7125,"color":"#f000"},{"offset":0.7144,"color":"#f00"},{"offset":0.7163,"color":"#f000"},
{"offset":0.725,"color":"#f000"},{"offset":0.7269,"color":"#f00"},{"offset":0.7288,"color":"#f000"},
{"offset":0.7375,"color":"#f000"},{"offset":0.7394,"color":"#f00"},{"offset":0.7413,"color":"#f000"},
{"offset":0.75,"color":"#f000"},{"offset":0.7519,"color":"#f00"},{"offset":0.7538,"color":"#f000"},
{"offset":0.7625,"color":"#f000"},{"offset":0.7644,"color":"#f00"},{"offset":0.7663,"color":"#f000"},
{"offset":0.775,"color":"#f000"},{"offset":0.7769,"color":"#f00"},{"offset":0.7788,"color":"#f000"},
{"offset":0.7875,"color":"#f000"},{"offset":0.7894,"color":"#f00"},{"offset":0.7913,"color":"#f000"},
{"offset":0.8,"color":"#f000"},{"offset":0.8019,"color":"#f00"},{"offset":0.8038,"color":"#f000"},
{"offset":0.8125,"color":"#f000"},{"offset":0.8144,"color":"#f00"},{"offset":0.8163,"color":"#f000"},
{"offset":0.825,"color":"#f000"},{"offset":0.8269,"color":"#f00"},{"offset":0.8288,"color":"#f000"},
{"offset":0.8375,"color":"#f000"},{"offset":0.8394,"color":"#f00"},{"offset":0.8413,"color":"#f000"},
{"offset":0.85,"color":"#f000"},{"offset":0.8519,"color":"#f00"},{"offset":0.8538,"color":"#f000"},
{"offset":0.8625,"color":"#f000"},{"offset":0.8644,"color":"#f00"},{"offset":0.8663,"color":"#f000"},
{"offset":0.875,"color":"#f000"},{"offset":0.8769,"color":"#f00"},{"offset":0.8788,"color":"#f000"},
{"offset":0.8875,"color":"#f000"},{"offset":0.8894,"color":"#f00"},{"offset":0.8913,"color":"#f000"},
{"offset":0.9,"color":"#f000"},{"offset":0.9019,"color":"#f00"},{"offset":0.9038,"color":"#f000"},
{"offset":0.9125,"color":"#f000"},{"offset":0.9144,"color":"#f00"},{"offset":0.9163,"color":"#f000"},
{"offset":0.925,"color":"#f000"},{"offset":0.9269,"color":"#f00"},{"offset":0.9288,"color":"#f000"},
{"offset":0.9375,"color":"#f000"},{"offset":0.9394,"color":"#f00"},{"offset":0.9413,"color":"#f000"},
{"offset":0.95,"color":"#f000"},{"offset":0.9519,"color":"#f00"},{"offset":0.9538,"color":"#f000"},
{"offset":0.9625,"color":"#f000"},{"offset":0.9644,"color":"#f00"},{"offset":0.9663,"color":"#f000"},
{"offset":0.975,"color":"#f000"},{"offset":0.9769,"color":"#f00"},{"offset":0.9788,"color":"#f000"},
{"offset":0.9875,"color":"#f000"},{"offset":0.9894,"color":"#f00"},{"offset":0.9913,"color":"#f000"},
{"offset":1,"color":"#f000"}]}},
   "encoding": {"x": {"field": "x", "type": "quantitative", "axis": null}, "y": {"field": "r", "type": "quantitative", "axis": null}}},
  {"transform": [{"filter": "datum.x >= 3"}],
   "mark": {"type": "area", "interpolate": "monotone", "fill": {"gradient": "linear", "x1": 0, "y1": 0, "x2": 1.1033, "y2": 1.1389, "stops": [
{"offset":0,"color":"#f000"},{"offset":0.0075,"color":"#f00"},{"offset":0.015,"color":"#f000"},
{"offset":0.05,"color":"#f000"},{"offset":0.0575,"color":"#f00"},{"offset":0.065,"color":"#f000"},
{"offset":0.1,"color":"#f000"},{"offset":0.1075,"color":"#f00"},{"offset":0.115,"color":"#f000"},
{"offset":0.15,"color":"#f000"},{"offset":0.1575,"color":"#f00"},{"offset":0.165,"color":"#f000"},
{"offset":0.2,"color":"#f000"},{"offset":0.2075,"color":"#f00"},{"offset":0.215,"color":"#f000"},
{"offset":0.25,"color":"#f000"},{"offset":0.2575,"color":"#f00"},{"offset":0.265,"color":"#f000"},
{"offset":0.3,"color":"#f000"},{"offset":0.3075,"color":"#f00"},{"offset":0.315,"color":"#f000"},
{"offset":0.35,"color":"#f000"},{"offset":0.3575,"color":"#f00"},{"offset":0.365,"color":"#f000"},
{"offset":0.4,"color":"#f000"},{"offset":0.4075,"color":"#f00"},{"offset":0.415,"color":"#f000"},
{"offset":0.45,"color":"#f000"},{"offset":0.4575,"color":"#f00"},{"offset":0.465,"color":"#f000"},
{"offset":0.5,"color":"#f000"},{"offset":0.5075,"color":"#f00"},{"offset":0.515,"color":"#f000"},
{"offset":0.55,"color":"#f000"},{"offset":0.5575,"color":"#f00"},{"offset":0.565,"color":"#f000"},
{"offset":0.6,"color":"#f000"},{"offset":0.6075,"color":"#f00"},{"offset":0.615,"color":"#f000"},
{"offset":0.65,"color":"#f000"},{"offset":0.6575,"color":"#f00"},{"offset":0.665,"color":"#f000"},
{"offset":0.7,"color":"#f000"},{"offset":0.7075,"color":"#f00"},{"offset":0.715,"color":"#f000"},
{"offset":0.75,"color":"#f000"},{"offset":0.7575,"color":"#f00"},{"offset":0.765,"color":"#f000"},
{"offset":0.8,"color":"#f000"},{"offset":0.8075,"color":"#f00"},{"offset":0.815,"color":"#f000"},
{"offset":0.85,"color":"#f000"},{"offset":0.8575,"color":"#f00"},{"offset":0.865,"color":"#f000"},
{"offset":0.9,"color":"#f000"},{"offset":0.9075,"color":"#f00"},{"offset":0.915,"color":"#f000"},
{"offset":0.95,"color":"#f000"},{"offset":0.9575,"color":"#f00"},{"offset":0.965,"color":"#f000"},
{"offset":1,"color":"#f000"}]}},
   "encoding": {"x": {"field": "x", "type": "quantitative", "axis": null}, "y": {"field": "r", "type": "quantitative", "axis": null}}},
  {"data": {"values": [{}]}, "mark": {"type": "rule", "color": "#000000", "strokeWidth": 1}, "encoding": {"x": {"datum": 0, "axis": null}}},
  {"mark": {"type": "line", "color": "#000000", "strokeWidth": 3, "interpolate": "monotone"},
   "encoding": {"x": {"field": "x", "type": "quantitative", "axis": null}, "y": {"field": "b", "type": "quantitative", "axis": null}}},
  {"transform": [{"filter": "isValid(datum.r)"}],
   "mark": {"type": "line", "color": "#cc0000", "strokeWidth": 2.5, "interpolate": "monotone"},
   "encoding": {"x": {"field": "x", "type": "quantitative", "axis": null}, "y": {"field": "r", "type": "quantitative", "axis": null}}},
  {"data": {"values": [{}]}, "mark": {"type": "text", "text": ["No rain", "Prob.(%)"], "lineHeight": 36}, "encoding": {"x": {"datum": -4.25, "axis": null}, "y": {"datum": 0.3934, "axis": null}}},
  {"data": {"values": [{}]}, "mark": {"type": "text", "text": "12.7"}, "encoding": {"x": {"datum": -4.25, "axis": null}, "y": {"datum": 0.3221, "axis": null}}},
  {"data": {"values": [{}]}, "mark": {"type": "text", "text": "15.9", "color": "#ff0000"}, "encoding": {"x": {"datum": -4.25, "axis": null}, "y": {"datum": 0.293, "axis": null}}},
  {"data": {"values": [{}]}, "mark": {"type": "text", "text": ["Light Rain", "Prob.(%)"], "lineHeight": 36}, "encoding": {"x": {"datum": 2.45, "axis": null}, "y": {"datum": 0.3934, "axis": null}}},
  {"data": {"values": [{}]}, "mark": {"type": "text", "text": "18.1"}, "encoding": {"x": {"datum": 2.45, "axis": null}, "y": {"datum": 0.3221, "axis": null}}},
  {"data": {"values": [{}]}, "mark": {"type": "text", "text": "15.0", "color": "#ff0000"}, "encoding": {"x": {"datum": 2.45, "axis": null}, "y": {"datum": 0.293, "axis": null}}},
  {"data": {"values": [{}]}, "mark": {"type": "text", "text": ["Heavy", "Rain", "Prob.(%)"], "lineHeight": 36.5}, "encoding": {"x": {"datum": 3.26, "axis": null}, "y": {"datum": 0.1824, "axis": null}}},
  {"data": {"values": [{}]}, "mark": {"type": "text", "text": "3.456"}, "encoding": {"x": {"datum": 3.26, "axis": null}, "y": {"datum": 0.0825, "axis": null}}},
  {"data": {"values": [{}]}, "mark": {"type": "text", "text": "2.272", "color": "#ff0000"}, "encoding": {"x": {"datum": 3.26, "axis": null}, "y": {"datum": 0.0522, "axis": null}}},
  {"data": {"values": [{}]}, "mark": {"type": "text", "text": "(c)", "fontSize": 24, "fontWeight": "bold"}, "encoding": {"x": {"datum": -4.5, "axis": null}, "y": {"datum": 0.5008, "axis": null}}},
  {"data": {"values": [{}]}, "mark": {"type": "text", "text": "Mean Ascent", "fontSize": 24, "dx": 37}, "encoding": {"x": {"datum": -4.5, "axis": null}, "y": {"datum": 0.5008, "axis": null}}}
 ]
}
]
}
